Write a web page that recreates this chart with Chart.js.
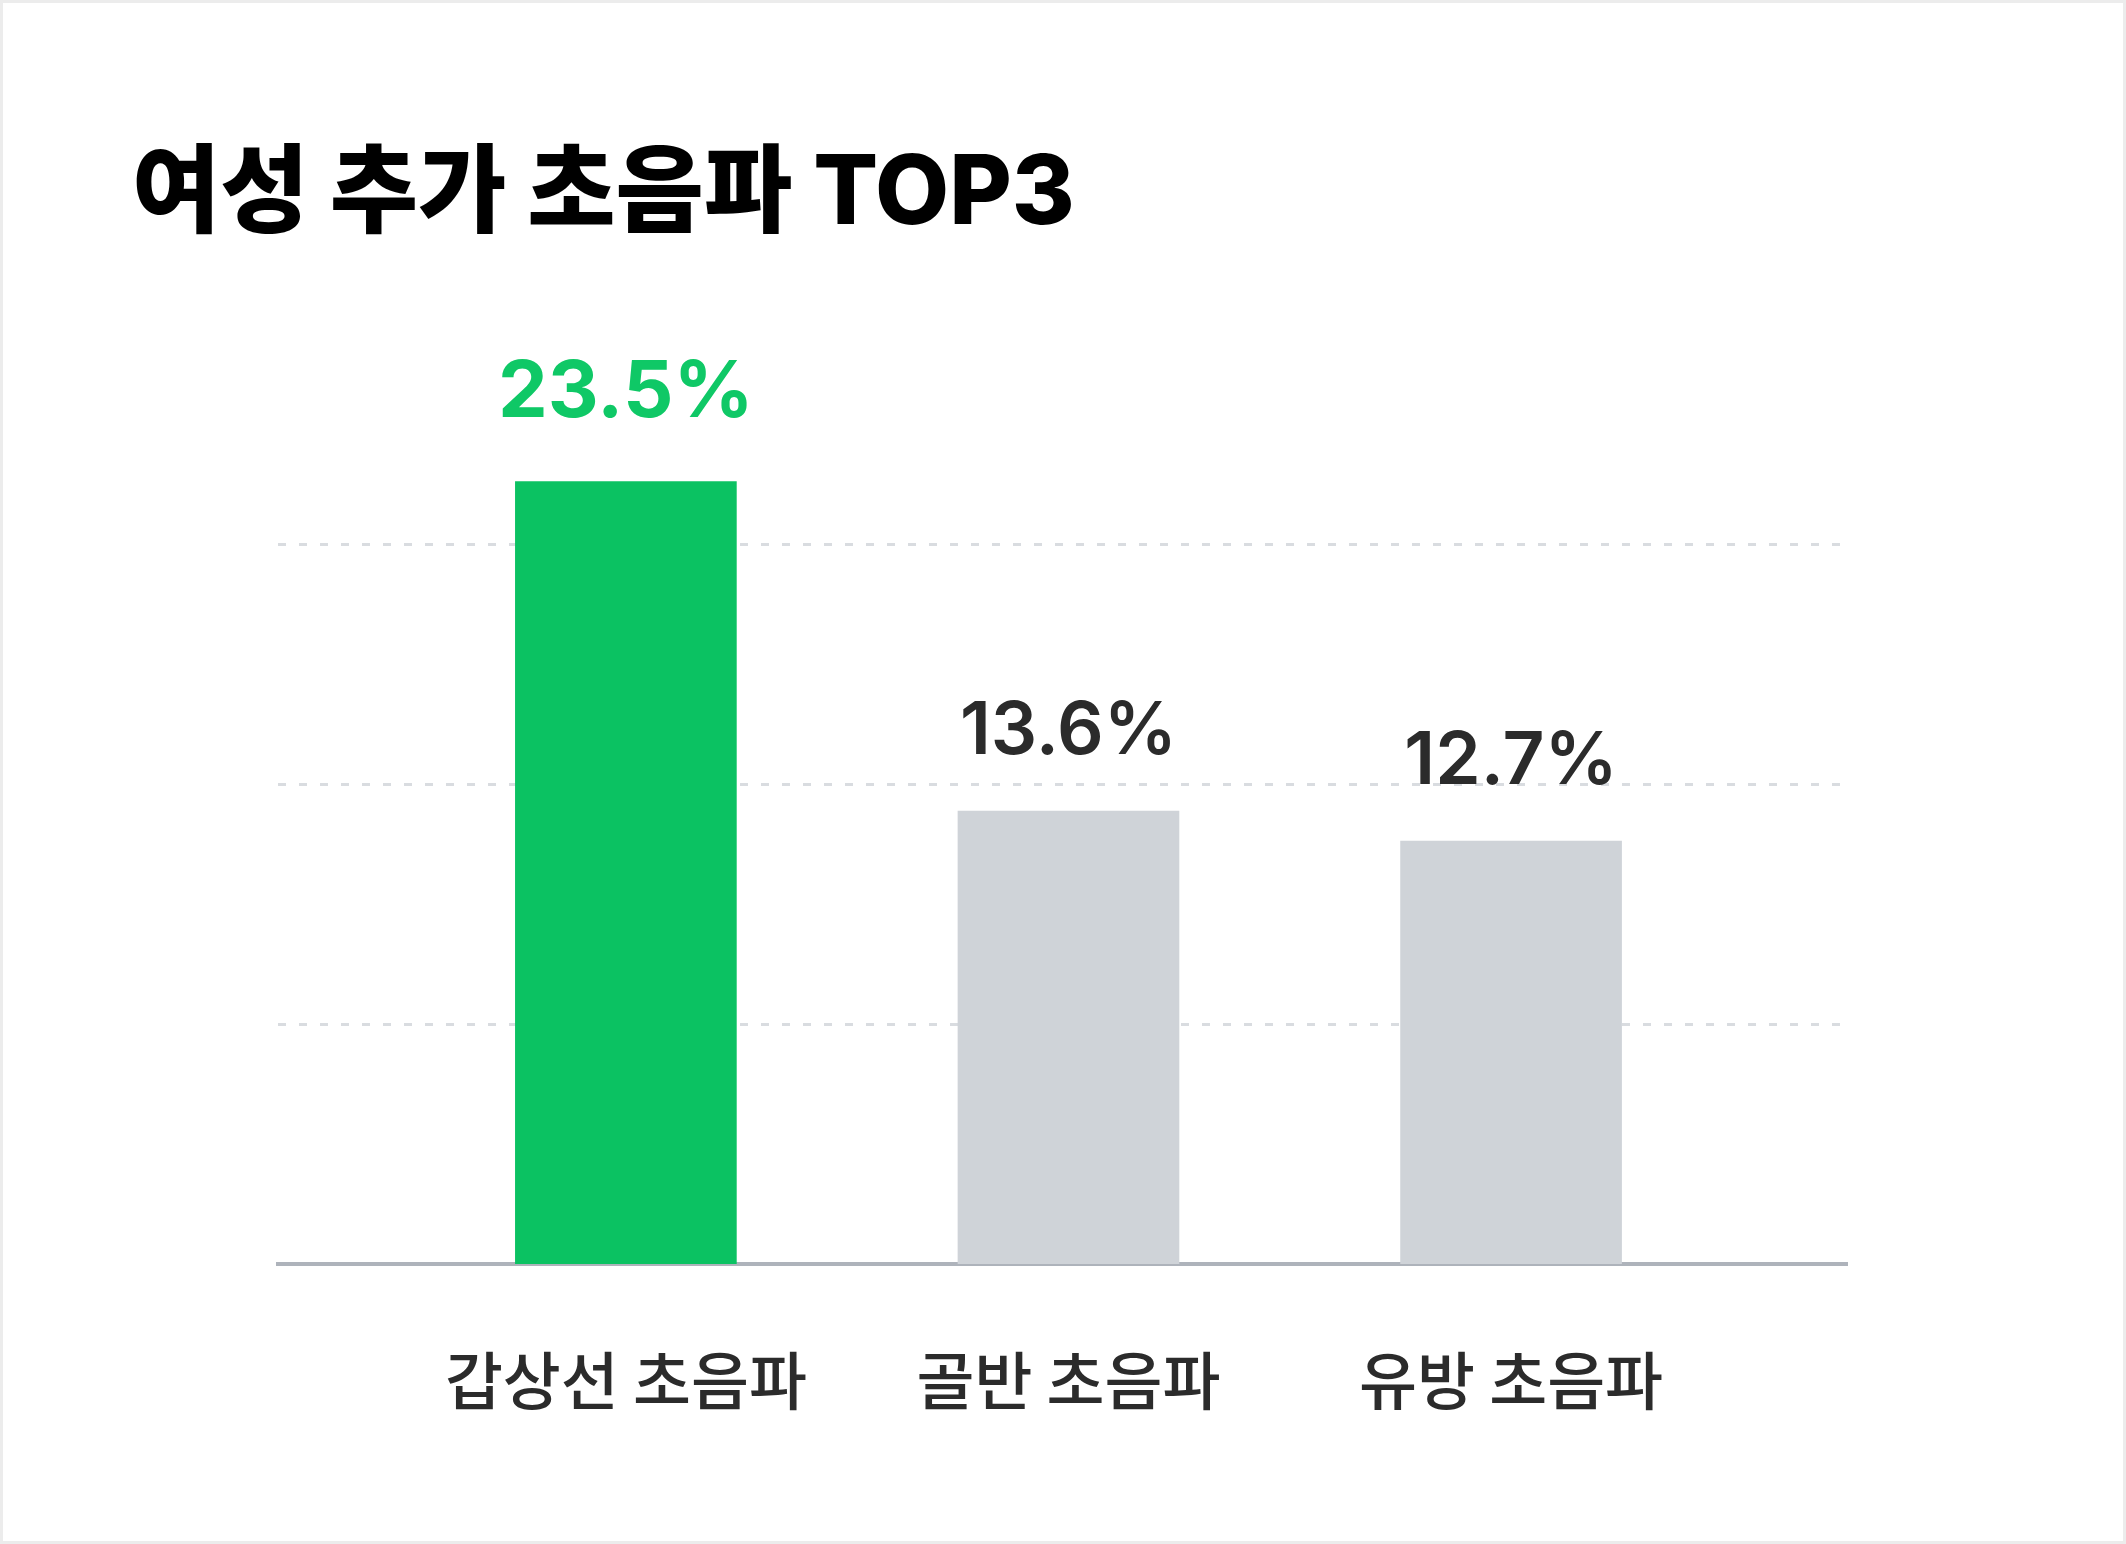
<!DOCTYPE html>
<html lang="ko">
<head>
<meta charset="utf-8">
<script src="https://cdn.jsdelivr.net/npm/chart.js@4/dist/chart.umd.min.js"></script>
<style>
    html, body { margin: 0; padding: 0; background: #fff; }
    body { width: 2126px; height: 1544px; position: relative; overflow: hidden; }
    #chart { position: absolute; left: 0; top: 0; }
    .frame { position: absolute; inset: 0; border: 3px solid #ececec; box-sizing: border-box; pointer-events: none; }
    .title {
        position: absolute; left: 132px; top: 141px; margin: 0;
        font: 800 96px/96px Inter, "Noto Sans CJK KR", sans-serif;
        color: #000; white-space: nowrap;
    }
</style>
</head>
<body>
<canvas id="chart" width="2126" height="1544"></canvas>
<div class="frame"></div>
<h1 class="title">여성 추가 초음파 TOP3</h1>
<script>
// data
const categories = ['갑상선 초음파', '골반 초음파', '유방 초음파'];
const values = [23.5, 13.6, 12.7];
const highlightIndex = 0;
const gridLevels = [7.2, 14.4, 21.6];
const yMax = 28.8;

const GREEN = '#0bc262';
const GREEN_TEXT = '#0fc866';
const GRAY = '#cfd3d8';
const DARK = '#2b2b2b';
const FONT = 'Inter, "Noto Sans CJK KR", sans-serif';

// values drawn above each bar, placed from the bar elements
const valueLabels = {
    id: 'valueLabels',
    afterDatasetsDraw(chart) {
        const { ctx } = chart;
        chart.getDatasetMeta(0).data.forEach((bar, i) => {
            const hi = i === highlightIndex;
            ctx.save();
            ctx.font = `${hi ? 700 : 600} ${hi ? 79 : 73}px ${FONT}`;
            ctx.fillStyle = hi ? GREEN_TEXT : DARK;
            ctx.textAlign = 'center';
            ctx.textBaseline = 'alphabetic';
            ctx.fillText(values[i].toFixed(1) + '%', bar.x, bar.y - (hi ? 64 : 57));
            ctx.restore();
        });
    },
};

new Chart(document.getElementById('chart'), {
    type: 'bar',
    data: {
        datasets: [{
            data: values.map((v, i) => ({ x: i, y: v })),
            backgroundColor: values.map((_, i) => (i === highlightIndex ? GREEN : GRAY)),
            borderWidth: 0,
            barThickness: 221,
        }],
    },
    options: {
        responsive: false,
        animation: false,
        layout: { padding: { left: 278, right: 279, top: 305, bottom: 130 } },
        plugins: { legend: { display: false }, tooltip: { enabled: false } },
        scales: {
            x: {
                type: 'linear',
                offset: false,
                min: -0.786, max: 2.759,
                z: 1,
                afterBuildTicks: (axis) => { axis.ticks = categories.map((_, i) => ({ value: i })); },
                afterFit: (scale) => { scale.height = 150; },
                grid: { display: false, drawTicks: false, offset: false },
                border: { display: true, color: '#aeb3bb', width: 4 },
                ticks: {
                    autoSkip: false, maxRotation: 0, padding: 78,
                    color: DARK,
                    font: { family: '"Noto Sans CJK KR", sans-serif', size: 63, weight: 500 },
                    callback: (v) => categories[v] ?? '',
                },
            },
            y: {
                min: 0, max: yMax,
                afterBuildTicks: (axis) => { axis.ticks = gridLevels.map((v) => ({ value: v })); },
                afterFit: (scale) => { scale.width = 0; },
                ticks: { display: false },
                grid: { color: '#d9dce0', lineWidth: 3, drawTicks: false },
                border: { display: false, dash: [8, 13] },
            },
        },
    },
    plugins: [valueLabels],
});
</script>
</body>
</html>
